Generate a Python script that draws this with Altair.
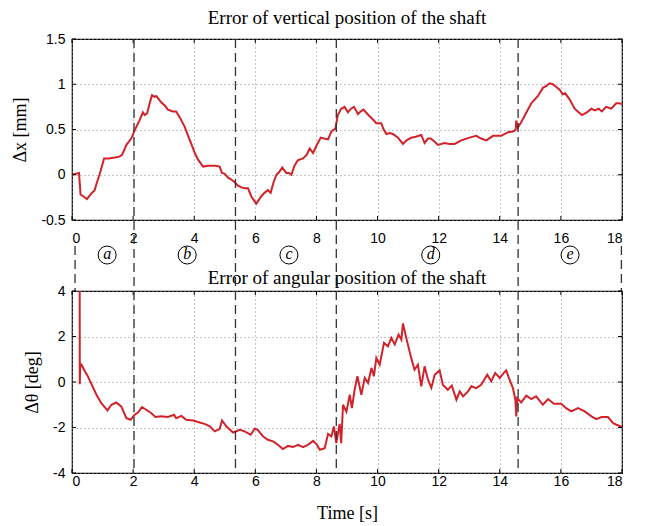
import altair as alt
import pandas as pd

# ---- data ----
t_x = [0, 0.1, 0.23, 0.28, 0.38, 0.49, 0.6, 0.74, 0.82, 0.9, 1.05, 1.2, 1.4, 1.55, 1.64, 1.78, 1.94,
       2.05, 2.21, 2.32, 2.38, 2.46, 2.55, 2.62, 2.7, 2.76, 2.85, 2.92, 3.05, 3.14, 3.3, 3.41, 3.55,
       3.69, 3.8, 3.93, 4.02, 4.12, 4.29, 4.45, 4.56, 4.7, 4.83, 4.91, 5.0, 5.1, 5.2, 5.32, 5.43,
       5.55, 5.65, 5.76, 5.87, 6.03, 6.11, 6.19, 6.3, 6.41, 6.5, 6.6, 6.69, 6.78, 6.88, 7.01, 7.1,
       7.18, 7.28, 7.39, 7.56, 7.68, 7.78, 7.89, 8.0, 8.14, 8.25, 8.38, 8.49, 8.62, 8.7, 8.81, 8.92,
       9.03, 9.13, 9.23, 9.36, 9.45, 9.54, 9.7, 9.85, 9.96, 10.12, 10.2, 10.29, 10.4, 10.5, 10.67,
       10.83, 10.95, 11.1, 11.25, 11.43, 11.54, 11.65, 11.74, 11.85, 11.98, 12.19, 12.35, 12.52,
       12.74, 13.01, 13.23, 13.39, 13.56, 13.78, 14.05, 14.27, 14.46, 14.52, 14.54, 14.59, 14.7,
       14.81, 15.03, 15.25, 15.41, 15.52, 15.63, 15.74, 15.85, 15.96, 16.06, 16.14, 16.29, 16.45,
       16.58, 16.69, 16.85, 17.0, 17.11, 17.24, 17.34, 17.48, 17.65, 17.81, 17.9, 18.0]
dx = [0.0, 0.01, 0.02, -0.22, -0.24, -0.27, -0.22, -0.17, -0.08, 0.0, 0.18, 0.18, 0.19, 0.2, 0.22,
      0.33, 0.40, 0.49, 0.60, 0.69, 0.66, 0.68, 0.8, 0.88, 0.86, 0.87, 0.83, 0.80, 0.76, 0.72, 0.70,
      0.70, 0.62, 0.53, 0.43, 0.32, 0.24, 0.17, 0.09, 0.10, 0.10, 0.10, 0.09, 0.02, 0.01, -0.03,
      -0.05, -0.08, -0.12, -0.14, -0.15, -0.15, -0.24, -0.32, -0.28, -0.24, -0.2, -0.17, -0.20,
      -0.08, 0.0, 0.03, 0.08, 0.02, 0.02, 0.0, 0.1, 0.16, 0.18, 0.22, 0.29, 0.24, 0.32, 0.41, 0.40,
      0.39, 0.48, 0.51, 0.66, 0.73, 0.75, 0.69, 0.73, 0.75, 0.67, 0.70, 0.72, 0.66, 0.61, 0.57,
      0.57, 0.5, 0.45, 0.46, 0.45, 0.41, 0.34, 0.38, 0.41, 0.42, 0.44, 0.35, 0.40, 0.40, 0.37,
      0.33, 0.35, 0.34, 0.34, 0.38, 0.41, 0.43, 0.40, 0.38, 0.43, 0.43, 0.47, 0.48, 0.50, 0.60,
      0.52, 0.58, 0.65, 0.79, 0.87, 0.96, 0.98, 1.01, 1.00, 0.97, 0.94, 0.89, 0.90, 0.83, 0.73,
      0.69, 0.66, 0.69, 0.73, 0.71, 0.73, 0.70, 0.75, 0.73, 0.79, 0.79, 0.78]

t_th = [0.25, 0.255, 0.27, 0.31, 0.42, 0.5, 0.63, 0.8, 0.96, 1.16, 1.29, 1.45, 1.61, 1.78, 1.92,
        2.05, 2.16, 2.29, 2.43, 2.6, 2.73, 2.92, 3.14, 3.34, 3.41, 3.58, 3.74, 3.96, 4.18, 4.34,
        4.51, 4.67, 4.83, 4.91, 5.05, 5.27, 5.49, 5.65, 5.85, 5.98, 6.08, 6.25, 6.41, 6.58, 6.74,
        6.9, 7.07, 7.23, 7.4, 7.56, 7.72, 7.89, 8.0, 8.11, 8.27, 8.38, 8.49, 8.57, 8.65, 8.76, 8.81,
        8.87, 8.98, 9.09, 9.16, 9.25, 9.34, 9.47, 9.58, 9.69, 9.8, 9.88, 9.96, 10.07, 10.21, 10.34,
        10.45, 10.56, 10.69, 10.78, 10.83, 10.94, 11.1, 11.21, 11.32, 11.43, 11.54, 11.65, 11.76,
        11.87, 12.03, 12.14, 12.3, 12.43, 12.58, 12.69, 12.8, 12.96, 13.07, 13.23, 13.39, 13.59,
        13.72, 13.85, 14.0, 14.11, 14.21, 14.32, 14.43, 14.51, 14.54, 14.57, 14.7, 14.87, 15.03,
        15.19, 15.41, 15.58, 15.77, 16.01, 16.17, 16.34, 16.56, 16.78, 17.0, 17.16, 17.33, 17.54,
        17.71, 17.82, 17.96, 18.0]
dth = [6.0, -0.1, 0.8, 0.76, 0.47, 0.3, -0.07, -0.56, -0.93, -1.25, -1.0, -0.90, -1.07, -1.59,
       -1.66, -1.44, -1.34, -1.10, -1.22, -1.37, -1.54, -1.51, -1.54, -1.44, -1.59, -1.49, -1.66,
       -1.69, -1.78, -1.84, -1.95, -2.17, -2.07, -1.69, -1.95, -2.22, -2.10, -2.17, -2.32, -2.05,
       -2.10, -2.39, -2.54, -2.61, -2.76, -2.95, -2.81, -2.86, -2.76, -2.86, -2.76, -2.59, -2.73,
       -2.98, -2.91, -2.28, -2.39, -1.95, -2.69, -1.84, -2.69, -1.0, -1.3, -0.56, -1.15, -0.34,
       0.25, -0.56, 0.18, -0.04, 0.62, 0.25, 1.06, 0.76, 1.72, 1.57, 1.94, 1.65, 2.08, 1.86, 2.57,
       1.94, 1.06, 0.54, 0.76, -0.19, 0.69, 0.10, -0.26, 0.32, 0.51, -0.13, -0.34, -0.16, -0.78,
       -0.41, -0.63, -0.41, -0.19, -0.27, -0.12, 0.32, 0.03, 0.40, 0.18, 0.37, 0.51, 0.10, -0.27,
       -0.78, -1.51, -0.71, -0.90, -0.60, -0.75, -0.63, -1.0, -0.75, -0.96, -0.96, -1.15, -1.29,
       -1.15, -1.29, -1.51, -1.63, -1.54, -1.54, -1.81, -1.88, -1.95, -1.97]

phase_bounds = [2.03, 5.35, 8.65, 14.6]
edge_bounds = [0.1, 17.98]
phase_t = [1.15, 3.77, 7.1, 11.74, 16.3]
phase_lab = ["a", "b", "c", "d", "e"]
x_ticks = [0, 2, 4, 6, 8, 10, 12, 14, 16, 18]
dx_ticks = [-0.5, 0, 0.5, 1, 1.5]
dth_ticks = [-4, -2, 0, 2, 4]

# ---- layout / style ----
W, H1, H2, GAP = 550, 181, 182, 71
RED = "#d2222a"
DASH = "#333333"

df_x = pd.DataFrame({"t": t_x, "v": dx})
df_th = pd.DataFrame({"t": t_th, "v": dth})
df_b = pd.DataFrame({"t": phase_bounds})
df_e = pd.DataFrame({"t": edge_bounds})
df_p = pd.DataFrame({"t": phase_t, "lab": phase_lab})
df_xt = pd.DataFrame({"t": x_ticks})

xscale = alt.Scale(domain=[0, 18], nice=False, zero=False)
LABEL_EXPR = "replace(format(datum.value, '~g'), '\u2212', '-')"


def panel(df, yvals, ydom, H, ytitle, title, title_offset, xtitle, xlabpad, top):
    yscale = alt.Scale(domain=ydom, nice=False, zero=False)
    xaxis = alt.Axis(values=x_ticks, title=xtitle, labelPadding=xlabpad, ticks=False,
                     domain=False, grid=True, gridDash=[1, 3], gridColor="#888888",
                     titlePadding=16)
    yaxis = alt.Axis(values=yvals, title=ytitle, labelExpr=LABEL_EXPR, labelPadding=7,
                     ticks=False, domain=False, grid=True, gridDash=[1, 3],
                     gridColor="#888888", titlePadding=11)
    X = alt.X("t:Q", scale=xscale, axis=xaxis)
    line = alt.Chart(df).mark_line(color=RED, strokeWidth=2, clip=True).encode(
        x=X, y=alt.Y("v:Q", scale=yscale, axis=yaxis))
    df_yt = pd.DataFrame({"v": yvals})
    yt_l = alt.Chart(df_yt).mark_rule(color="black").encode(
        y=alt.Y("v:Q", scale=yscale, axis=yaxis), x=alt.value(0), x2=alt.value(4))
    yt_r = alt.Chart(df_yt).mark_rule(color="black").encode(
        y=alt.Y("v:Q", scale=yscale, axis=yaxis), x=alt.value(W), x2=alt.value(W - 4))
    xt_b = alt.Chart(df_xt).mark_rule(color="black").encode(
        x=X, y=alt.value(H), y2=alt.value(H - 4))
    xt_t = alt.Chart(df_xt).mark_rule(color="black").encode(
        x=X, y=alt.value(0), y2=alt.value(4))
    layers = [line, yt_l, yt_r, xt_b, xt_t]
    if top:
        rules = alt.Chart(df_b).mark_rule(color=DASH, strokeDash=[9, 5], strokeWidth=1.3).encode(
            x=X, y=alt.value(0), y2=alt.value(H + GAP))
        edges = alt.Chart(df_e).mark_rule(color=DASH, strokeDash=[9, 5], strokeWidth=1.3).encode(
            x=X, y=alt.value(H + 26), y2=alt.value(H + GAP))
        circ = alt.Chart(df_p).mark_point(shape="circle", size=324, filled=False, color="black",
                                          strokeWidth=1, opacity=1).encode(
            x=X, y=alt.value(H + 35))
        txt = alt.Chart(df_p).mark_text(font="Liberation Serif", fontStyle="italic", fontSize=16,
                                        baseline="middle", align="center", dy=-1).encode(
            x=X, y=alt.value(H + 35), text="lab:N")
        layers += [rules, edges, circ, txt]
    else:
        rules = alt.Chart(df_b).mark_rule(color=DASH, strokeDash=[9, 5], strokeWidth=1.3).encode(
            x=X, y=alt.value(0), y2=alt.value(H))
        layers += [rules]
    return alt.layer(*layers).properties(
        width=W, height=H,
        title=alt.TitleParams(title, font="Liberation Serif", fontSize=19, fontWeight="normal",
                              anchor="middle", offset=title_offset, frame="group",
                              color="black"))


top = panel(df_x, dx_ticks, [-0.5, 1.5], H1, "Δx [mm]", "Error of vertical position of the shaft",
            4, None, 11, True)
bottom = panel(df_th, dth_ticks, [-4, 4], H2, "Δθ [deg]", "Error of angular position of the shaft",
               -4, "Time [s]", 1, False)

chart = alt.vconcat(top, bottom, spacing=GAP, bounds="flush").properties(
    padding={"left": 3, "top": 0, "right": 5, "bottom": 2},
    background="white"
).configure_view(stroke="black", strokeWidth=1.2).configure_axis(
    labelFont="Liberation Sans", labelFontSize=14, labelColor="black",
    titleFont="Liberation Serif", titleFontSize=18, titleFontWeight="normal", titleColor="black"
)

chart.save("out.html", embed_options={"renderer": "svg", "actions": False})
